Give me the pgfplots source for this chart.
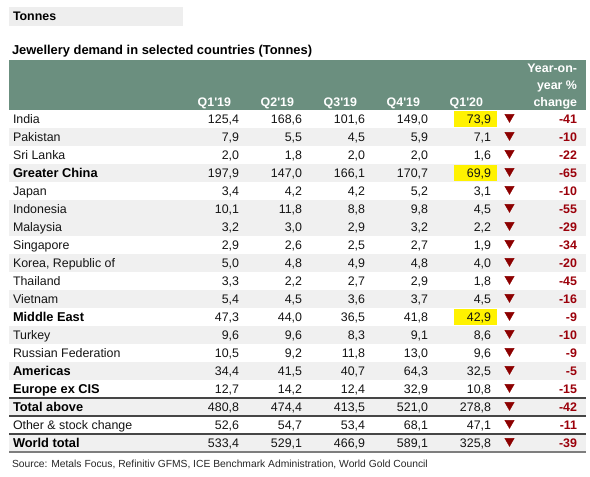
\documentclass[border=0pt]{standalone}
\usepackage{fontspec}
\setmainfont{Liberation Sans}
\newfontfamily\arial{Liberation Sans}
\usepackage{pgfplots}
\usepackage{pgfplotstable}
\pgfplotsset{compat=1.18}
\definecolor{hdr}{RGB}{107,143,127}
\definecolor{band}{RGB}{240,240,240}
\definecolor{ttl}{RGB}{238,238,238}
\definecolor{dred}{RGB}{155,0,10}
\definecolor{tri}{RGB}{140,0,0}
\definecolor{rulec}{RGB}{70,70,70}
\newcommand\bodyfont{\arial\fontsize{12.4bp}{15bp}\selectfont}
\newcommand\boldfont{\arial\bfseries\fontsize{12.4bp}{15bp}\selectfont}
\newcommand\blabfont{\arial\bfseries\fontsize{12.8bp}{15bp}\selectfont}
\newcommand\titlefont{\arial\bfseries\fontsize{12.9bp}{15bp}\selectfont}
\newcommand\srcfont{\arial\fontsize{10.3bp}{12bp}\selectfont}

\pgfplotstableread[col sep=semicolon]{
row;name
1;India
2;Pakistan
3;Sri Lanka
5;Japan
6;Indonesia
7;Malaysia
8;Singapore
9;Korea, Republic of
10;Thailand
11;Vietnam
13;Turkey
14;Russian Federation
18;Other \& stock change
}\regnames

\pgfplotstableread[col sep=semicolon]{
row;name
4;Greater China
12;Middle East
15;Americas
16;Europe ex CIS
17;Total above
19;World total
}\boldnames

\pgfplotstableread{
row q1 q2 q3 q4 q5 yoy
1 125,4 168,6 101,6 149,0 73,9 -41
2 7,9 5,5 4,5 5,9 7,1 -10
3 2,0 1,8 2,0 2,0 1,6 -22
4 197,9 147,0 166,1 170,7 69,9 -65
5 3,4 4,2 4,2 5,2 3,1 -10
6 10,1 11,8 8,8 9,8 4,5 -55
7 3,2 3,0 2,9 3,2 2,2 -29
8 2,9 2,6 2,5 2,7 1,9 -34
9 5,0 4,8 4,9 4,8 4,0 -20
10 3,3 2,2 2,7 2,9 1,8 -45
11 5,4 4,5 3,6 3,7 4,5 -16
12 47,3 44,0 36,5 41,8 42,9 -9
13 9,6 9,6 8,3 9,1 8,6 -10
14 10,5 9,2 11,8 13,0 9,6 -9
15 34,4 41,5 40,7 64,3 32,5 -5
16 12,7 14,2 12,4 32,9 10,8 -15
17 480,8 474,4 413,5 521,0 278,8 -42
18 52,6 54,7 53,4 68,1 47,1 -11
19 533,4 529,1 466,9 589,1 325,8 -39
}\nums

\pgfplotsset{
  txtE/.style={draw=none, mark=none, forget plot, nodes near coords, point meta=explicit symbolic,
    every node near coord/.append style={anchor=base east, inner sep=0pt, outer sep=0pt}},
  txtW/.style={draw=none, mark=none, forget plot, nodes near coords, point meta=explicit symbolic,
    every node near coord/.append style={anchor=base west, inner sep=0pt, outer sep=0pt}},
  bandl/.style={draw=band, line width=18bp, mark=none, forget plot},
  rulel/.style={draw=rulec, line width=1.1bp, mark=none, forget plot},
  yel/.style={draw=yellow, line width=16bp, mark=none, forget plot},
}

\begin{document}
\begin{tikzpicture}
\begin{axis}[
  scale only axis, width=590bp, height=476bp,
  xmin=0, xmax=590, ymin=0, ymax=476, y dir=reverse,
  hide axis, clip=false,
]
\addplot[draw=none, mark=none, forget plot] coordinates {(0,0) (590,476)};
% title box
\addplot[draw=ttl, line width=18.5bp, mark=none, forget plot] coordinates {(9,16.3) (183,16.3)};
% header box
\addplot[draw=hdr, line width=50bp, mark=none, forget plot] coordinates {(9,85) (586,85)};
% row bands
\addplot[bandl] coordinates {(9,137) (586,137)};
\addplot[bandl] coordinates {(9,173) (586,173)};
\addplot[bandl] coordinates {(9,209) (586,209)};
\addplot[bandl] coordinates {(9,227) (586,227)};
\addplot[bandl] coordinates {(9,263) (586,263)};
\addplot[bandl] coordinates {(9,299) (586,299)};
\addplot[bandl] coordinates {(9,335) (586,335)};
\addplot[bandl] coordinates {(9,371) (586,371)};
\addplot[bandl] coordinates {(9,407) (586,407)};
\addplot[bandl] coordinates {(9,443) (586,443)};
% rules
\addplot[rulel] coordinates {(9,398) (586,398)};
\addplot[rulel] coordinates {(9,416) (586,416)};
\addplot[rulel] coordinates {(9,434) (586,434)};
\addplot[rulel, draw=rulec!70] coordinates {(9,452) (586,452)};
% yellow highlights
\addplot[yel] coordinates {(454,119) (497,119)};
\addplot[yel] coordinates {(454,173) (497,173)};
\addplot[yel] coordinates {(454,317) (497,317)};
% titles
\addplot[txtW, nodes near coords style={font=\boldfont, text=black}] coordinates {(13,21) [Tonnes]};
\addplot[txtW, nodes near coords style={font=\titlefont, text=black}] coordinates {(12,55) [Jewellery demand in selected countries (Tonnes)]};
% header
\addplot[txtE, nodes near coords style={font=\boldfont, text=white}] coordinates {
  (231,106) [Q1'19]
  (294,106) [Q2'19]
  (357,106) [Q3'19]
  (420,106) [Q4'19]
  (483,106) [Q1'20]
  (577,72) [Year-on-]
  (577,89) [year \%]
  (577,106) [change]
};
% row labels
\addplot[txtW, nodes near coords style={font=\bodyfont, text=black!92}] table[x expr=13, y expr=105+18*\thisrow{row}, meta=name] {\regnames};
\addplot[txtW, nodes near coords style={font=\blabfont, text=black}] table[x expr=13, y expr=105+18*\thisrow{row}, meta=name] {\boldnames};
% numbers
\addplot[txtE, nodes near coords style={font=\bodyfont, text=black!92}] table[x expr=239, y expr=105+18*\thisrow{row}, meta=q1] {\nums};
\addplot[txtE, nodes near coords style={font=\bodyfont, text=black!92}] table[x expr=302, y expr=105+18*\thisrow{row}, meta=q2] {\nums};
\addplot[txtE, nodes near coords style={font=\bodyfont, text=black!92}] table[x expr=365, y expr=105+18*\thisrow{row}, meta=q3] {\nums};
\addplot[txtE, nodes near coords style={font=\bodyfont, text=black!92}] table[x expr=428, y expr=105+18*\thisrow{row}, meta=q4] {\nums};
\addplot[txtE, nodes near coords style={font=\bodyfont, text=black!92}] table[x expr=491, y expr=105+18*\thisrow{row}, meta=q5] {\nums};
\addplot[txtE, nodes near coords style={font=\boldfont, text=dred}] table[x expr=577, y expr=105+18*\thisrow{row}, meta=yoy] {\nums};
% triangles
\addplot[only marks, mark=triangle*, mark size=5.4bp, forget plot,
  mark options={rotate=180, fill=tri, draw=tri}] table[x expr=509.5, y expr=99+18*\thisrow{row}] {\nums};
% source
\addplot[txtW, nodes near coords style={font=\srcfont, text=black!85}] coordinates {(12,467) [Source: Metals Focus, Refinitiv GFMS, ICE Benchmark Administration, World Gold Council]};
\end{axis}
\pgfresetboundingbox
\path[use as bounding box] (current axis.south west) rectangle (current axis.north east);
\end{tikzpicture}
\end{document}
